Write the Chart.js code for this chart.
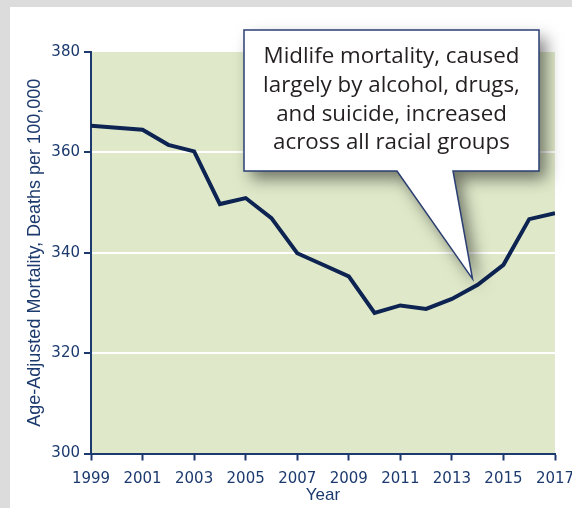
<!DOCTYPE html>
<html lang="en">
<head>
<meta charset="UTF-8">
<title>Midlife mortality</title>
<script src="https://cdn.jsdelivr.net/npm/chart.js@4.4.0/dist/chart.umd.min.js"></script>
<style>
  body { margin: 0; background: #dcdcdc; width: 572px; height: 508px; overflow: hidden; }
  #wrap { position: absolute; left: 10px; top: 7px; width: 562px; height: 501px; background: #fff; }
</style>
</head>
<body>
<div id="wrap"><canvas id="grafico" width="562" height="501"></canvas></div>
<script>
// data
var years = [1999, 2000, 2001, 2002, 2003, 2004, 2005, 2006, 2007, 2008, 2009, 2010, 2011, 2012, 2013, 2014, 2015, 2016, 2017];
var mortality = [365.3, 364.9, 364.5, 361.5, 360.2, 349.7, 350.9, 346.9, 339.9, 337.6, 335.3, 328.0, 329.5, 328.8, 330.8, 333.6, 337.6, 346.7, 347.9];
var yTicks = [300, 320, 340, 360, 380];
var calloutLines = ['Midlife mortality, caused', 'largely by alcohol, drugs,', 'and suicide, increased', 'across all racial groups'];
var calloutTip = { x: 2013.8, y: 334.8 };

var navy = '#1c3a6e';

var fondo = {
  id: 'fondo',
  beforeDraw: function(chart) {
    var a = chart.chartArea, ctx = chart.ctx;
    ctx.save();
    ctx.fillStyle = '#dfe9c9';
    ctx.fillRect(a.left, a.top, a.right - a.left, a.bottom - a.top);
    ctx.restore();
  }
};

var globo = {
  id: 'globo',
  afterDraw: function(chart) {
    var ctx = chart.ctx;
    var tx = chart.scales.x.getPixelForValue(calloutTip.x);
    var ty = chart.scales.y.getPixelForValue(calloutTip.y);
    var l = 234, r = 529, t = 23, b = 164;
    ctx.save();
    ctx.beginPath();
    ctx.moveTo(l, t);
    ctx.lineTo(r, t);
    ctx.lineTo(r, b);
    ctx.lineTo(443, b);
    ctx.lineTo(tx, ty);
    ctx.lineTo(387, b);
    ctx.lineTo(l, b);
    ctx.closePath();
    ctx.shadowColor = 'rgba(0,0,0,0.5)';
    ctx.shadowBlur = 16;
    ctx.shadowOffsetX = 7;
    ctx.shadowOffsetY = 8;
    ctx.fillStyle = '#fff';
    ctx.fill();
    ctx.shadowColor = 'transparent';
    ctx.lineWidth = 1.5;
    ctx.strokeStyle = '#2b3f73';
    ctx.stroke();

    ctx.font = '22px "Open Sans"';
    var w = ctx.measureText(calloutLines[0]).width;
    var size = 22 * 256 / w;
    ctx.font = size + 'px "Open Sans"';
    ctx.fillStyle = '#231f20';
    ctx.textAlign = 'center';
    ctx.textBaseline = 'middle';
    for (var i = 0; i < calloutLines.length; i++) {
      ctx.fillText(calloutLines[i], 381.5, 50 + i * 28.7);
    }
    ctx.restore();
  }
};

var puntos = [];
for (var i = 0; i < years.length; i++) {
  puntos.push({ x: years[i], y: mortality[i] });
}

new Chart(document.getElementById('grafico'), {
  type: 'line',
  data: {
    datasets: [{
      data: puntos,
      borderColor: '#0d2452',
      borderWidth: 4,
      pointRadius: 0,
      tension: 0,
      borderJoinStyle: 'miter'
    }]
  },
  options: {
    responsive: false,
    animation: false,
    layout: { padding: { top: 45, right: 17, left: 0, bottom: 0 } },
    plugins: { legend: { display: false }, tooltip: { enabled: false } },
    scales: {
      x: {
        type: 'linear',
        min: 1999,
        max: 2017,
        border: { color: navy, width: 2 },
        grid: { drawOnChartArea: false, tickColor: navy, tickLength: 7, tickWidth: 2 },
        ticks: {
          stepSize: 2,
          autoSkip: false,
          maxRotation: 0,
          padding: 10,
          color: navy,
          font: { family: '"DejaVu Sans"', size: 15 },
          callback: function(v) { return String(v); }
        },
        title: {
          display: true,
          text: 'Year',
          color: navy,
          font: { family: '"Liberation Sans"', size: 17 },
          padding: { top: 0, bottom: 2 }
        },
        afterFit: function(scale) {
          scale.height = 54.5;
          scale.paddingLeft = 0;
          scale.paddingRight = 0;
        }
      },
      y: {
        min: 300,
        max: 380,
        border: { color: navy, width: 2 },
        grid: {
          color: function(c) {
            var v = c.tick && c.tick.value;
            return (v > 300 && v < 380) ? '#ffffff' : 'rgba(0,0,0,0)';
          },
          lineWidth: 2,
          tickColor: navy,
          tickLength: 7,
          tickWidth: 2
        },
        afterBuildTicks: function(scale) {
          scale.ticks = yTicks.map(function(v) { return { value: v }; });
        },
        ticks: {
          padding: 4,
          color: navy,
          font: { family: '"DejaVu Sans"', size: 15 }
        },
        title: {
          display: true,
          text: 'Age-Adjusted Mortality, Deaths per 100,000',
          color: navy,
          font: { family: '"Liberation Sans"', size: 18 },
          padding: { top: 14, bottom: 0 }
        },
        afterFit: function(scale) {
          scale.width = 81;
        }
      }
    }
  },
  plugins: [fondo, globo]
});
</script>
</body>
</html>
